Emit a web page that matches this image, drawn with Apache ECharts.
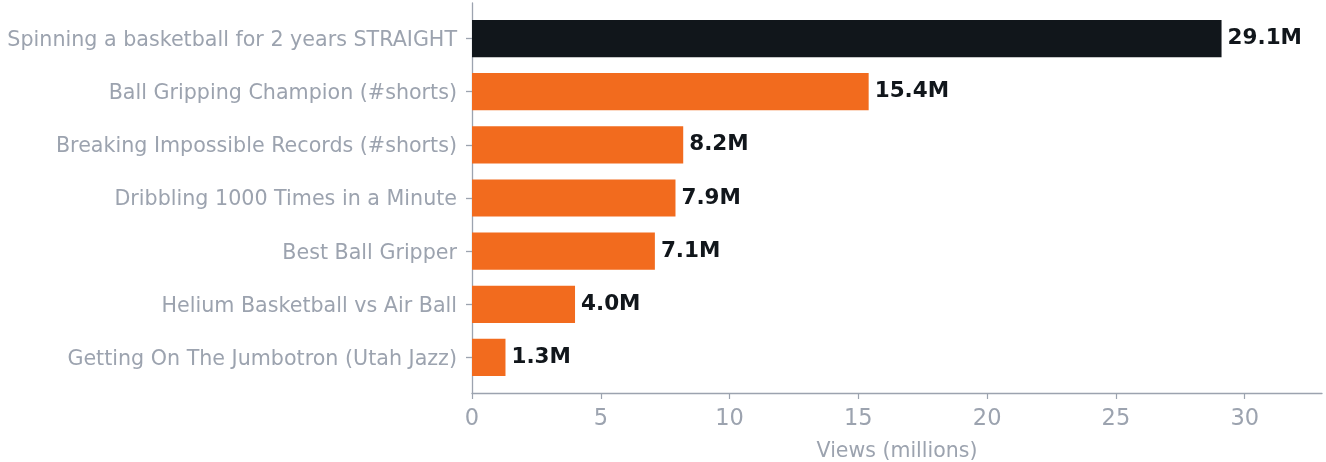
<!DOCTYPE html>
<html>
<head>
<meta charset="utf-8">
<script src="https://cdn.jsdelivr.net/npm/echarts@6/dist/echarts.min.js"></script>
<style>html,body{margin:0;padding:0;background:#fff}#c{width:1326px;height:462px}</style>
</head>
<body>
<div id="c"></div>
<script>
const categories = [
  "Spinning a basketball for 2 years STRAIGHT",
  "Ball Gripping Champion (#shorts)",
  "Breaking Impossible Records (#shorts)",
  "Dribbling 1000 Times in a Minute",
  "Best Ball Gripper",
  "Helium Basketball vs Air Ball",
  "Getting On The Jumbotron (Utah Jazz)"
];
const views = [29.1, 15.4, 8.2, 7.9, 7.1, 4.0, 1.3];
const highlightIndex = 0;
const xTicks = [0, 5, 10, 15, 20, 25, 30];
const xMax = 33;

const FONT = 'DejaVu Sans';
const GRAY = '#9ca3af';
const DARK = '#11161b';
const ORANGE = '#f26b1e';

const chart = echarts.init(document.getElementById('c'), null, {renderer: 'canvas'});
chart.setOption({
  animation: false,
  backgroundColor: '#ffffff',
  textStyle: {fontFamily: FONT},
  grid: [
    {left: 472, right: 4, top: 12, bottom: 78, containLabel: false, outerBoundsMode: 'none'},
    {left: 472, right: 4, top: 3, bottom: 69, containLabel: false, outerBoundsMode: 'none'}
  ],
  xAxis: [
    {gridIndex: 0, type: 'value', min: 0, max: xMax, show: false},
    {
      gridIndex: 1, type: 'value', min: 0, max: xMax, interval: 5,
      name: 'Views (millions)', nameLocation: 'middle', nameGap: 48,
      nameTextStyle: {color: GRAY, fontSize: 20.5, fontFamily: FONT},
      axisLine: {show: true, lineStyle: {color: GRAY, width: 1.3}},
      axisTick: {show: true, length: 6, lineStyle: {color: GRAY, width: 1.2}, customValues: xTicks},
      axisLabel: {color: GRAY, fontSize: 22.5, fontFamily: FONT, margin: 15, customValues: xTicks},
      splitLine: {show: false}
    }
  ],
  yAxis: [
    {
      gridIndex: 0, type: 'category', data: categories, inverse: true,
      axisLine: {show: false},
      axisTick: {show: true, length: 6, alignWithLabel: true, lineStyle: {color: GRAY, width: 1.3}},
      axisLabel: {
        margin: 15,
        formatter: v => '{a|' + v + '}',
        rich: {a: {color: GRAY, fontSize: 20.65, fontFamily: FONT, padding: [4, 0, 0, 0]}}
      }
    },
    {
      gridIndex: 1, type: 'value', min: 0, max: 1,
      axisLine: {show: true, lineStyle: {color: GRAY, width: 1.3}},
      axisTick: {show: false}, axisLabel: {show: false}, splitLine: {show: false}
    }
  ],
  series: [{
    type: 'bar',
    xAxisIndex: 0, yAxisIndex: 0,
    barWidth: '70%',
    data: views.map((v, i) => ({
      value: v,
      itemStyle: {color: i === highlightIndex ? DARK : ORANGE}
    })),
    label: {
      show: true, position: 'right', distance: 6,
      formatter: p => p.value.toFixed(1) + 'M',
      color: DARK, fontSize: 21.5, fontWeight: 'bold', fontFamily: FONT
    }
  }]
});
</script>
</body>
</html>
